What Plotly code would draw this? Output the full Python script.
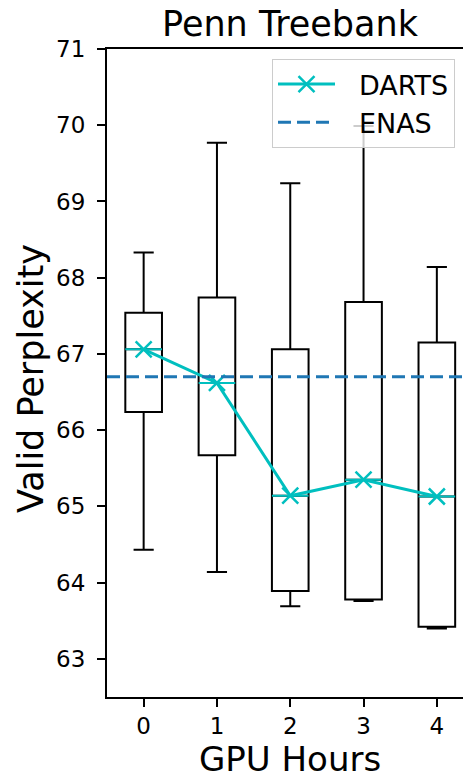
import plotly.graph_objects as go

# ---- data ----
gpu_hours = [0, 1, 2, 3, 4]
darts_upper = [68.33, 69.77, 69.24, 69.99, 68.14]
darts_q3 = [67.54, 67.74, 67.06, 67.68, 67.15]
darts_median = [67.06, 66.62, 65.14, 65.35, 65.13]
darts_q1 = [66.24, 65.67, 63.89, 63.78, 63.42]
darts_lower = [64.43, 64.14, 63.69, 63.76, 63.40]
enas_value = 66.70

x_ticks = [0, 1, 2, 3, 4]
y_ticks = [63, 64, 65, 66, 67, 68, 69, 70, 71]

CYAN = "#00BFBF"
BLUE = "#1f77b4"
FONT = "DejaVu Sans"
box_w = 0.5

fig = go.Figure()

# box plots
fig.add_trace(go.Box(
    x=gpu_hours, q1=darts_q1, median=darts_median, q3=darts_q3,
    lowerfence=darts_lower, upperfence=darts_upper,
    width=box_w, whiskerwidth=0.55,
    fillcolor="rgba(0,0,0,0)", line=dict(color="black", width=2),
    boxpoints=False, showlegend=False, hoverinfo="skip",
))

# cyan median lines
mx, my = [], []
for h, m in zip(gpu_hours, darts_median):
    mx += [h - box_w / 2, h + box_w / 2, None]
    my += [m, m, None]
fig.add_trace(go.Scatter(
    x=mx, y=my, mode="lines", line=dict(color=CYAN, width=2),
    showlegend=False, hoverinfo="skip",
))

# DARTS median trajectory
fig.add_trace(go.Scatter(
    x=gpu_hours, y=darts_median, mode="lines+markers", name="\u2002\u2009DARTS",
    line=dict(color=CYAN, width=3),
    marker=dict(symbol="x-thin", size=16, line=dict(color=CYAN, width=2.5)),
))

# ENAS dashed reference line
fig.add_trace(go.Scatter(
    x=[gpu_hours[0] - 0.5, gpu_hours[-1] + 0.5], y=[enas_value, enas_value],
    mode="lines", name="\u2002\u2009ENAS",
    line=dict(color=BLUE, width=3, dash="13px,6px"),
))

# page offset (browser body margin is 8px)
OFF = 8
PW, PH = 471, 778          # page size
W, H = PW - OFF, PH - OFF  # figure size
PL, PR_, PT, PB = 107, 471, 49, 697   # plot area in page pixels
L, T = PL - OFF, PT - OFF
R = PW - PR_
B = H - (PB - OFF)
pw, ph = PR_ - PL, PB - PT


def px_x(X):
    return (X - PL) / pw


def px_y(Y):
    return (PB - Y) / ph


fig.update_layout(
    width=W, height=H,
    margin=dict(l=L, r=R, t=T, b=B),
    paper_bgcolor="white", plot_bgcolor="white",
    font=dict(family=FONT, color="black"),
    title=dict(text="Penn Treebank", font=dict(size=35, family=FONT, color="black"),
               x=(290 - OFF) / W, xanchor="center", xref="container",
               y=1 - (24 - OFF) / H, yanchor="middle", yref="container"),
    xaxis=dict(range=[-0.5, 4.466], tickvals=x_ticks, ticktext=[str(v) for v in x_ticks],
               showgrid=False, zeroline=False, showline=True, linecolor="black",
               linewidth=2, mirror=True, ticks="outside", ticklen=8, tickwidth=2,
               tickcolor="black", ticklabelstandoff=-1,
               tickfont=dict(size=23, family=FONT, color="black")),
    yaxis=dict(range=[62.5, 71], tickvals=y_ticks, ticktext=[str(v) for v in y_ticks],
               showgrid=False, zeroline=False, showline=True, linecolor="black",
               linewidth=2, mirror=False, ticks="outside", ticklen=8, tickwidth=2,
               tickcolor="black", ticklabelstandoff=7,
               tickfont=dict(size=23, family=FONT, color="black")),
    legend=dict(x=px_x(272), y=px_y(59),
                xanchor="left", yanchor="top",
                bgcolor="rgba(255,255,255,0.8)", bordercolor="#cccccc", borderwidth=1,
                font=dict(size=27, family=FONT, color="black"),
                itemwidth=57, traceorder="normal"),
    annotations=[
        dict(text="GPU Hours", xref="paper", yref="paper", x=px_x(290),
             y=px_y(759), xanchor="center", yanchor="middle",
             showarrow=False, font=dict(size=34, family=FONT, color="black")),
        dict(text="Valid Perplexity", xref="paper", yref="paper",
             x=px_x(31), y=px_y(379), xanchor="center", yanchor="middle",
             textangle=-90, showarrow=False,
             font=dict(size=35, family=FONT, color="black")),
    ],
)

fig.write_html("out.html")
